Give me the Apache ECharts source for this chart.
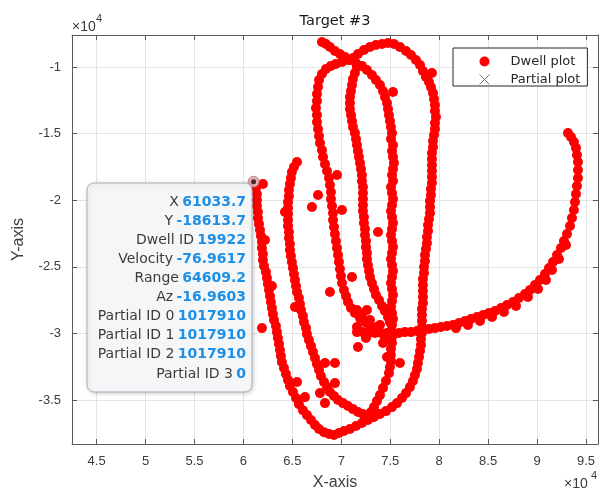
<!DOCTYPE html>
<html>
<head>
<meta charset="utf-8">
<script src="https://cdn.jsdelivr.net/npm/echarts@6/dist/echarts.min.js"></script>
<style>
  html, body { margin: 0; padding: 0; background: #ffffff; }
  #chart { width: 607px; height: 492px; }
</style>
</head>
<body>
<div id="chart"></div>
<script>
// Axis extents and tick positions (metres)
const xRange = [42480, 96230];
const yRange = [-38300, -7600];
const xTicks = [45000, 50000, 55000, 60000, 65000, 70000, 75000, 80000, 85000, 90000, 95000];
const yTicks = [-35000, -30000, -25000, -20000, -15000, -10000];

// Selected dwell (shown in the data tip)
const tipPoint = [61033.7, -18613.7];
const tipLabels = ['X', 'Y', 'Dwell ID', 'Velocity', 'Range', 'Az', 'Partial ID 0', 'Partial ID 1', 'Partial ID 2', 'Partial ID 3'];
const tipValues = ['61033.7', '-18613.7', '19922', '-76.9617', '64609.2', '-16.9603', '1017910', '1017910', '1017910', '0'];

// Dwell plots, grouped by track leg
const legWest = [
  [61033.7, -18613.7],
  [61280,-19090],[61380,-19540],[61380,-19990],[61380,-20440],[61480,-20890],[61480,-21340],[61590,-21790],[61690,-22240],
  [61790,-22690],[61890,-23140],[61890,-23590],[61990,-24040],[61990,-24490],[62100,-24940],[62300,-25390],[62400,-25840],
  [62500,-26290],[62610,-26740],[62710,-27190],[62810,-27640],[62910,-28090],[63010,-28540],[63120,-28990],[63320,-29440],
  [63420,-29900],[63520,-30350],[63630,-30800],[63730,-31250],[63830,-31700],[63930,-32150],[64140,-32600],[64340,-33050],
  [64550,-33500],[64750,-33950],[65060,-34400],[65370,-34850],[65670,-35310],[66080,-35760],[66490,-36130],[66900,-36500],
  [67310,-36880],[67720,-37180],[68230,-37410],[68740,-37550],[69250,-37630]
];
const legOuter = [
  [69760,-37480],[70270,-37330],[70880,-37180],[71500,-36950],[72110,-36730],[72720,-36500],[73340,-36280],[73950,-36050],
  [74560,-35830],[75180,-35530],[75690,-35230],[76200,-34850],[76610,-34480],[77010,-34030],[77320,-33570],[77530,-33120],
  [77730,-32670],[77830,-32220],[77940,-31770],[78040,-31320],[78140,-30870],[78140,-30420],[78240,-29970],[78240,-29520],
  [78240,-29070],[78240,-28620],[78240,-28170],[78340,-27720],[78340,-27270],[78340,-26820],[78340,-26370],[78340,-25920],
  [78450,-25470],[78450,-25020],[78550,-24570],[78550,-24110],[78650,-23660],[78750,-23210],[78750,-22760],[78860,-22310],
  [78860,-21860],[78960,-21410],[79060,-20960],[79060,-20510],[79060,-20060],[79160,-19610],[79160,-19160],[79260,-18710],
  [79260,-18260],[79260,-17810],[79260,-17360],[79260,-16910],[79260,-16460],[79370,-16010],[79370,-15560],[79470,-15110],
  [79570,-14660],[79570,-14200],[79670,-13750],[79570,-13300],[79570,-12850],[79470,-12400],[79370,-11950],[79160,-11500],
  [78960,-11130],[78650,-10750],[78340,-10300],[78040,-9850],[77630,-9470],[77120,-9100],[76610,-8800],[75990,-8500],
  [75380,-8270],[74770,-8200],[74160,-8270],[73540,-8350],[72930,-8500],[72310,-8720],[71700,-9020],[71190,-9320],
  [70680,-9470],[70070,-9620],[69450,-9770],[68940,-9920]
];
const legC = [
  [68430,-10150],[68020,-10530],[67720,-10980],[67620,-11500],[67510,-12030],[67510,-12550],[67410,-13080],[67510,-13600],
  [67510,-14130],[67620,-14660],[67720,-15180],[67820,-15710],[68020,-16230],[68130,-16760],[68330,-17280],[68540,-17810],
  [68740,-18330],[68840,-18860],[68940,-19380],[68940,-19910],[69050,-20440],[69150,-20960],[69150,-21490],[69250,-22010],
  [69350,-22540],[69450,-23060],[69560,-23590],[69660,-24110],[69760,-24640],[69860,-25170],[69960,-25690],[70070,-26220],
  [70270,-26740],[70480,-27190],[70680,-27640],[70990,-28090],[71390,-28470],[71910,-28850],[72420,-29150],[72930,-29440]
];
const legB = [
  [65470,-17130],[65160,-17510],[64950,-17880],[64850,-18330],[64750,-18780],[64650,-19230],[64650,-19690],[64550,-20140],
  [64550,-20590],[64550,-21040],[64550,-21490],[64550,-21940],[64650,-22390],[64650,-22840],[64750,-23290],[64750,-23740],
  [64850,-24190],[64950,-24640],[65060,-25090],[65160,-25540],[65260,-25990],[65370,-26440],[65470,-26890],[65670,-27340],
  [65770,-27790],[65880,-28240],[66080,-28690],[66180,-29150],[66390,-29600],[66490,-30050],[66690,-30500],[66900,-30950],
  [67110,-31400],[67310,-31850],[67510,-32300],[67720,-32750],[67920,-33200],[68230,-33650],[68540,-34030],[68840,-34400],
  [69250,-34700],[69660,-35000],[70170,-35230],[70680,-35450],[71190,-35680],[71700,-35900],[72210,-36050],[72720,-36210],
  [73240,-36280]
];
const legD = [
  [71600,-10000],[71390,-10450],[71190,-10900],[71090,-11350],[70990,-11800],[70880,-12250],[70880,-12700],[70880,-13150],
  [70990,-13600],[71090,-14050],[71190,-14510],[71390,-14960],[71500,-15410],[71600,-15860],[71700,-16310],[71800,-16760],
  [71910,-17210],[72010,-17660],[72110,-18110],[72110,-18560],[72210,-19010],[72210,-19460],[72210,-19910],[72210,-20360],
  [72210,-20810],[72310,-21260],[72310,-21710],[72420,-22160],[72420,-22610],[72520,-23060],[72520,-23510],[72620,-23960],
  [72620,-24420],[72720,-24870],[72830,-25320],[72930,-25770],[73130,-26220],[73340,-26670],[73540,-27120],[73850,-27490],
  [74160,-27940],[74460,-28320],[74770,-28770],[74970,-29150]
];
const legE = [
  [68020,-8120],[68430,-8270],[68840,-8500],[69350,-8800],[69860,-9020],[70370,-9250],[70880,-9470],[71500,-9700],
  [72110,-9920],[72620,-10230],[73130,-10600],[73540,-10980],[73950,-11350],[74260,-11800],[74460,-12250],[74670,-12700],
  [74770,-13150],[74870,-13600],[74970,-14050],[75070,-14510],[75180,-14960],[75080,-15410],[75280,-15860],[75180,-16310],
  [75280,-16760],[75380,-17210],[75280,-17660],[75180,-18110],[75280,-18560],[75080,-19010],[75180,-19460],[75280,-19910],
  [75180,-20360],[75080,-20810],[75180,-21260],[75280,-21710],[75180,-22160],[75080,-22610],[75180,-23060],[75280,-23510],
  [75180,-23960],[75080,-24420],[75180,-24870],[75280,-25320],[75180,-25770],[75080,-26220],[75180,-26670],[75280,-27120],
  [75180,-27570],[75080,-28020],[75180,-28470],[75280,-28920],[75180,-29370],[75080,-29820],[75180,-30270],[75180,-30720],
  [75070,-31170],[75070,-31620],[75070,-32070],[74970,-32520],[74870,-32980],[74560,-33570],[74260,-34100],[73950,-34630],
  [73640,-35080],[73340,-35530],[73030,-35900]
];
const legTail = [
  [71600,-29900],[72210,-29900],[72830,-29970],[73440,-29970],[74050,-29970],[74670,-29970],[75280,-29970],[75890,-29970],
  [76500,-29900],[77120,-29900],[77730,-29820],[78340,-29750],[78960,-29670],[79570,-29600],[80180,-29520],[80800,-29440],
  [81410,-29370],[82020,-29220],[82640,-29070],[83250,-28920],[83860,-28770],[84480,-28620],[85090,-28470],[85700,-28320],
  [86320,-28090],[86930,-27870],[87540,-27640],[88150,-27340],[88770,-27040],[89280,-26740],[89790,-26370],[90300,-25990],
  [90810,-25540],[91220,-25090],[91630,-24640],[92040,-24110],[92450,-23590],[92750,-23060],[93060,-22540],[93370,-21940],
  [93570,-21340],[93770,-20740],[93880,-20140],[93980,-19540],[94080,-18930],[94180,-18330],[94180,-17730],[94180,-17130],
  [94080,-16610],[93980,-16080],[93770,-15630],[93470,-15260],[93160,-14960],
  [81720,-29600],[82940,-29370],[84170,-29070],[85400,-28770],[86620,-28390],[87850,-27940],[89070,-27270],[90100,-26670],
  [90910,-25990],[91530,-25240],[92240,-24420],[92960,-23360]
];
const strayDwells = [
  [71600,-28240],[72110,-28620],[72620,-28240],[72930,-28990],[71600,-29520],[73640,-29520],[71700,-31020],[74260,-30720],
  [74670,-31770],[73950,-29370],[74460,-30350],[72520,-30350],
  [61990,-18780],[61890,-29600],[62200,-22990],[62910,-26440],[64240,-20890],[65470,-33650],[66290,-34780],[68330,-35230],
  [67820,-34480],[68330,-32220],[69350,-32220],[69350,-33730],[65260,-28020],[67620,-19610],[67000,-20510],[70070,-20740],
  [69560,-18110],[71090,-25770],[68840,-26890],[73750,-22390],[75280,-11880],[79260,-10450],[75990,-32220]
];
const partialPlots = [];

const dwellPlots = [].concat(legWest, legOuter, legC, legB, legD, legE, legTail, strayDwells);

const tickFmt = v => String(Math.round(v / 1000) / 10);
const frameColor = '#5a5a5a';
const tickFont = 'Liberation Sans, Arial, sans-serif';
const textFont = 'DejaVu Sans, sans-serif';

const chart = echarts.init(document.getElementById('chart'), null, { renderer: 'canvas' });

const tipRows = tipLabels.map((lab, i) => ({
  type: 'text',
  x: 246,
  y: 202 + i * 19.1,
  z: 102,
  style: {
    text: '{a|' + lab + '} {b|' + tipValues[i] + '}',
    align: 'right',
    verticalAlign: 'middle',
    rich: {
      a: { fontFamily: textFont, fontSize: 14, fill: '#3c3c3c' },
      b: { fontFamily: textFont, fontSize: 14, fontWeight: 'bold', fill: '#1d8fe6' }
    }
  }
}));

chart.setOption({
  animation: false,
  backgroundColor: '#ffffff',
  grid: { left: 72, right: 9, top: 35, bottom: 48, containLabel: false, outerBoundsMode: 'none' },
  legend: {
    orient: 'vertical',
    left: 453,
    top: 48,
    padding: [7, 7, 0, 26],
    itemWidth: 42,
    itemHeight: 10,
    itemGap: 5,
    backgroundColor: '#ffffff',
    borderColor: '#262626',
    borderWidth: 1,
    borderRadius: 0,
    selectedMode: false,
    textStyle: { fontFamily: textFont, fontSize: 13, color: '#262626' },
    data: [
      { name: 'Dwell plot', icon: 'circle' },
      { name: 'Partial plot', icon: 'path://M0,0L10,10M10,0L0,10',
        itemStyle: { color: 'rgba(0,0,0,0)', borderColor: '#555555', borderWidth: 1 } }
    ]
  },
  xAxis: [
    {
      type: 'value', min: xRange[0], max: xRange[1], position: 'bottom',
      name: 'X-axis', nameLocation: 'middle', nameGap: 31,
      nameTextStyle: { fontFamily: tickFont, fontSize: 16, color: '#404040' },
      axisLine: { show: true, onZero: false, lineStyle: { color: frameColor, width: 1 } },
      axisTick: { show: true, inside: true, length: 5, customValues: xTicks, lineStyle: { color: frameColor } },
      axisLabel: { customValues: xTicks, formatter: tickFmt, color: '#3c3c3c', fontFamily: tickFont, fontSize: 13, margin: 11 },
      splitLine: { show: true, lineStyle: { color: '#e4e4e4', width: 1 } }
    },
    {
      type: 'value', min: xRange[0], max: xRange[1], position: 'top',
      axisLine: { show: true, onZero: false, lineStyle: { color: frameColor, width: 1 } },
      axisTick: { show: true, inside: true, length: 5, customValues: xTicks, lineStyle: { color: frameColor } },
      axisLabel: { show: false },
      splitLine: { show: false }
    }
  ],
  yAxis: [
    {
      type: 'value', min: yRange[0], max: yRange[1], position: 'left',
      name: 'Y-axis', nameLocation: 'middle', nameGap: 45,
      nameTextStyle: { fontFamily: tickFont, fontSize: 16, color: '#404040' },
      axisLine: { show: true, onZero: false, lineStyle: { color: frameColor, width: 1 } },
      axisTick: { show: true, inside: true, length: 5, customValues: yTicks, lineStyle: { color: frameColor } },
      axisLabel: { customValues: yTicks, formatter: tickFmt, color: '#3c3c3c', fontFamily: tickFont, fontSize: 13, margin: 11 },
      splitLine: { show: true, lineStyle: { color: '#e4e4e4', width: 1 } }
    },
    {
      type: 'value', min: yRange[0], max: yRange[1], position: 'right',
      axisLine: { show: true, onZero: false, lineStyle: { color: frameColor, width: 1 } },
      axisTick: { show: true, inside: true, length: 5, customValues: yTicks, lineStyle: { color: frameColor } },
      axisLabel: { show: false },
      splitLine: { show: false }
    }
  ],
  series: [
    {
      name: 'Dwell plot', type: 'scatter', xAxisIndex: 0, yAxisIndex: 0,
      symbol: 'circle', symbolSize: 10,
      itemStyle: { color: '#ff0000', opacity: 1 },
      data: dwellPlots, z: 2
    },
    {
      name: 'Partial plot', type: 'scatter', xAxisIndex: 0, yAxisIndex: 0,
      symbol: 'path://M0,0L10,10M10,0L0,10', symbolSize: 7,
      itemStyle: { color: 'rgba(0,0,0,0)', borderColor: '#555555', borderWidth: 1 },
      data: partialPlots, z: 3
    },
    {
      name: 'tip ring', type: 'scatter', xAxisIndex: 0, yAxisIndex: 0,
      symbol: 'circle', symbolSize: 11, silent: true,
      itemStyle: { color: '#f2cfcf', borderColor: '#8c7474', borderWidth: 1 },
      data: [tipPoint], z: 4
    },
    {
      name: 'tip dot', type: 'scatter', xAxisIndex: 0, yAxisIndex: 0,
      symbol: 'circle', symbolSize: 5, silent: true,
      itemStyle: { color: '#111111' },
      data: [tipPoint], z: 5
    }
  ],
  graphic: [
    { type: 'text', x: 335, y: 21, style: { text: 'Target #3', align: 'center', verticalAlign: 'middle',
      fontFamily: textFont, fontSize: 14.5, fill: '#1a1a1a' } },
    { type: 'text', x: 72, y: 27, style: { text: '\u00d710', align: 'left', verticalAlign: 'middle',
      fontFamily: tickFont, fontSize: 14, fill: '#3c3c3c' } },
    { type: 'text', x: 96, y: 19, style: { text: '4', align: 'left', verticalAlign: 'middle',
      fontFamily: tickFont, fontSize: 11, fill: '#3c3c3c' } },
    { type: 'text', x: 564, y: 484, style: { text: '\u00d710', align: 'left', verticalAlign: 'middle',
      fontFamily: tickFont, fontSize: 14, fill: '#3c3c3c' } },
    { type: 'text', x: 591, y: 476, style: { text: '4', align: 'left', verticalAlign: 'middle',
      fontFamily: tickFont, fontSize: 11, fill: '#3c3c3c' } },
    { type: 'rect', z: 100, shape: { x: 87, y: 183, width: 165, height: 209, r: 7 },
      style: { fill: '#f5f6f8', stroke: '#aab0b8', lineWidth: 1, shadowBlur: 4, shadowColor: 'rgba(0,0,0,0.18)', shadowOffsetX: 1, shadowOffsetY: 1 } }
  ].concat(tipRows)
});
</script>
</body>
</html>
